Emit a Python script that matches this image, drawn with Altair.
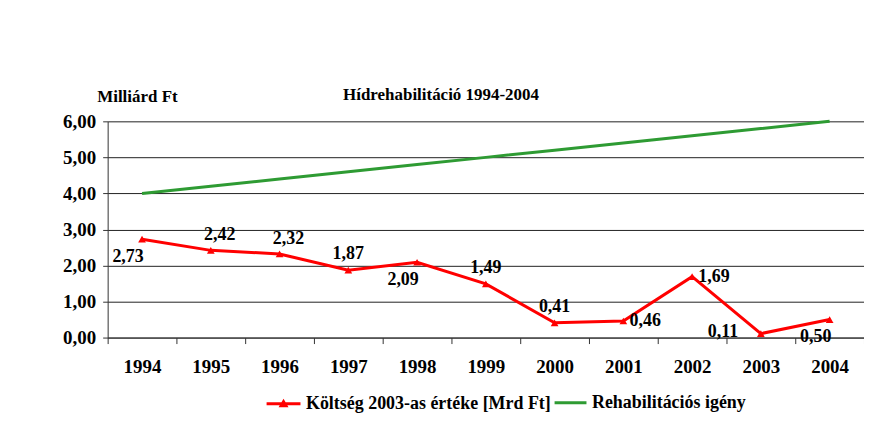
import altair as alt
import pandas as pd

years = ["1994", "1995", "1996", "1997", "1998", "1999", "2000", "2001", "2002", "2003", "2004"]
cost = [2.73, 2.42, 2.32, 1.87, 2.09, 1.49, 0.41, 0.46, 1.69, 0.11, 0.50]
need = [4.0, 4.2, 4.4, 4.6, 4.8, 5.0, 5.2, 5.4, 5.6, 5.8, 6.0]
y_ticks = [0.0, 1.0, 2.0, 3.0, 4.0, 5.0, 6.0]
label_place = ["below-left", "above-right", "above-right", "above", "below-left", "above",
               "above", "right", "right", "left", "below-left"]

S_COST = "Költség 2003-as értéke [Mrd Ft]"
S_NEED = "Rehabilitációs igény"
RED = "#ff0000"
GREEN = "#2e9b33"
FONT = "Liberation Serif"

rows = []
for y, c, p in zip(years, cost, label_place):
    rows.append({"year": y, "value": c, "series": S_COST, "place": p})
for y, n in zip(years, need):
    rows.append({"year": y, "value": n, "series": S_NEED, "place": ""})
df = pd.DataFrame(rows)

x_enc = alt.X("year:N", title=None, sort=years,
              scale=alt.Scale(paddingInner=0, paddingOuter=0),
              axis=alt.Axis(tickBand="extent", labelAngle=0, labelFont=FONT, labelFontSize=19,
                            labelFontWeight="bold", labelColor="black", tickSize=6,
                            labelPadding=14, domainColor="#333", tickColor="#333", grid=False))
y_enc = alt.Y("value:Q", scale=alt.Scale(domain=[0, 6], nice=False, zero=True),
              axis=alt.Axis(values=y_ticks, labelOverlap=False,
                            labelExpr="replace(format(datum.value, '.2f'), '.', ',')",
                            labelFont=FONT, labelFontSize=19, labelFontWeight="bold",
                            labelColor="black", tickSize=5, labelPadding=7,
                            domainColor="#333", tickColor="#333", grid=True,
                            gridColor="#222", gridWidth=1,
                            title="Milliárd Ft", titleAngle=0, titleAlign="left",
                            titleBaseline="bottom", titleX=-11, titleY=-16,
                            titleFont=FONT, titleFontSize=17, titleFontWeight="bold",
                            titleColor="black"))

legend_common = dict(title=None, orient="none", direction="horizontal", labelFont=FONT,
                     labelFontSize=18, labelFontWeight="bold", labelColor="black",
                     labelOffset=4, labelLimit=0, padding=0, symbolStrokeWidth=3,
                     legendY=265)

base = alt.Chart(df)

line_cost = base.transform_filter(alt.datum.series == S_COST).mark_line(strokeWidth=3).encode(
    x=x_enc, y=y_enc,
    color=alt.Color("series:N", scale=alt.Scale(domain=[S_COST], range=[RED]),
                    legend=alt.Legend(legendX=158, symbolSize=1156,
                                      symbolType="M-1,0H1M-0.14,0.12L0,-0.12L0.14,0.12Z",
                                      symbolFillColor=RED, **legend_common)))

line_need = base.transform_filter(alt.datum.series == S_NEED).mark_line(strokeWidth=3).encode(
    x=x_enc, y=y_enc,
    color=alt.Color("series:N", scale=alt.Scale(domain=[S_NEED], range=[GREEN]),
                    legend=alt.Legend(legendX=447, symbolSize=1024, symbolType="stroke",
                                      **legend_common)))

points = base.transform_filter(alt.datum.series == S_COST).mark_point(
    shape="triangle-up", filled=True, size=60, color=RED, opacity=1
).encode(x=x_enc, y=y_enc)

offsets = {
    "below-left": (-14, 18),
    "above-right": (9, -15),
    "above": (0, -16),
    "right": (22, 0),
    "left": (-38, -2),
}

label_layers = []
for place, (dx, dy) in offsets.items():
    label_layers.append(
        base.transform_filter(alt.datum.place == place)
        .transform_calculate(txt="replace(format(datum.value, '.2f'), '.', ',')")
        .mark_text(font=FONT, fontSize=18, fontWeight="bold", color="black",
                   align="center", baseline="middle", dx=dx, dy=dy)
        .encode(x=x_enc, y=y_enc, text="txt:N")
    )

chart = alt.layer(line_need, line_cost, points, *label_layers).resolve_scale(
    color="independent"
).resolve_legend(color="independent").properties(
    width=759, height=217,
    autosize=alt.AutoSizeParams(type="none"),
    padding={"left": 100, "top": 113, "right": 0, "bottom": 85},
    title=alt.TitleParams("Hídrehabilitáció 1994-2004", font=FONT, fontSize=17,
                          fontWeight="bold", color="black", anchor="middle",
                          dx=-45, offset=-17),
    background="white",
).configure_view(stroke=None)

chart.save("out.html", embed_options={"renderer": "svg", "actions": False})
